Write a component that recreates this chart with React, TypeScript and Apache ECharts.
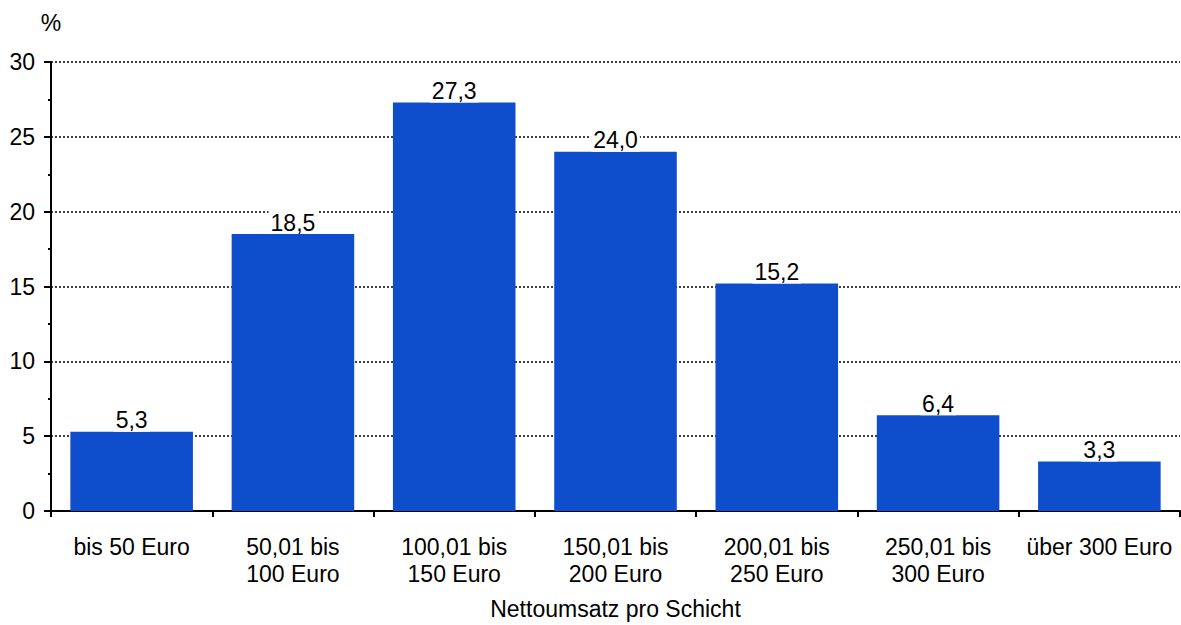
import React, { useEffect, useRef } from "react";
import * as echarts from "echarts";

const categories = [
  "bis 50 Euro",
  "50,01 bis\n100 Euro",
  "100,01 bis\n150 Euro",
  "150,01 bis\n200 Euro",
  "200,01 bis\n250 Euro",
  "250,01 bis\n300 Euro",
  "über 300 Euro",
];
const values = [5.3, 18.5, 27.3, 24.0, 15.2, 6.4, 3.3];
const yTicks = { min: 0, max: 30, interval: 5 };
const xName = "Nettoumsatz pro Schicht";
const yName = "%";

const FONT = "'Liberation Sans', Arial, sans-serif";
const FS = 23;

export default function App() {
  const ref = useRef<HTMLDivElement>(null);
  useEffect(() => {
    const chart = echarts.init(ref.current!, undefined, { renderer: "svg" });
    chart.setOption({
      animation: false,
      textStyle: { fontFamily: FONT },
      grid: { left: 51, right: 1, top: 62, bottom: 110, containLabel: false },
      xAxis: {
        type: "category",
        data: categories,
        name: xName,
        nameLocation: "middle",
        nameGap: 86,
        nameTextStyle: { fontFamily: FONT, fontSize: FS, color: "#000" },
        axisLine: { lineStyle: { color: "#000", width: 2 } },
        axisTick: { show: true, length: 6, alignWithLabel: false, lineStyle: { color: "#000", width: 2 } },
        axisLabel: {
          fontFamily: FONT,
          fontSize: FS,
          color: "#000",
          margin: 22,
          lineHeight: 27,
          interval: 0,
        },
      },
      yAxis: {
        type: "value",
        min: yTicks.min,
        max: yTicks.max,
        interval: yTicks.interval,
        name: yName,
        nameLocation: "end",
        nameGap: 28,
        nameTextStyle: { fontFamily: FONT, fontSize: FS, color: "#000", align: "center" },
        axisLine: { show: true, lineStyle: { color: "#000", width: 2 } },
        axisTick: { show: true, length: 7, lineStyle: { color: "#000", width: 2 } },
        minorTick: { show: true, splitNumber: 2, length: 3, lineStyle: { color: "#000", width: 2 } },
        axisLabel: { fontFamily: FONT, fontSize: FS, color: "#000", margin: 16 },
        splitLine: { show: true, lineStyle: { color: "#000", type: [2, 2], width: 1.5 } },
      },
      series: [
        {
          type: "bar",
          data: values,
          barCategoryGap: "24%",
          itemStyle: { color: "#0E4ECC" },
          label: {
            show: true,
            position: "top",
            distance: 0,
            fontFamily: FONT,
            fontSize: FS,
            color: "#000",
            backgroundColor: "#fff",
            padding: [1, 2, 0, 2],
            formatter: (p: any) => p.value.toFixed(1).replace(".", ","),
          },
          z: 3,
        },
      ],
    });
    return () => chart.dispose();
  }, []);
  return <div ref={ref} style={{ width: 1181, height: 625, position: "absolute", left: 0, top: 0 }} />;
}
